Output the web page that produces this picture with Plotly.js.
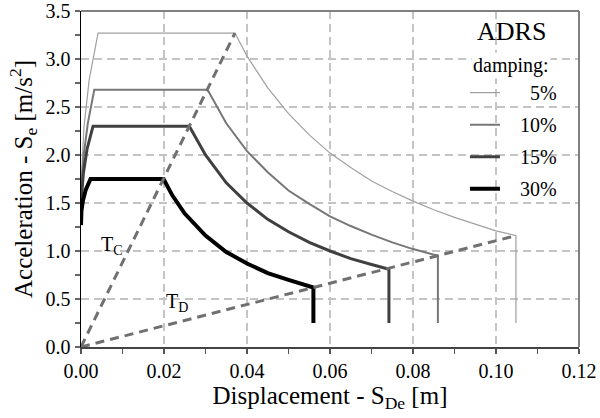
<!DOCTYPE html>
<html>
<head>
<meta charset="utf-8">
<script src="https://cdn.plot.ly/plotly-3.0.1.min.js"></script>
<style>
html,body{margin:0;padding:0;background:#fff;}
#chart{width:600px;height:418px;}
#chart svg text{font-family:"Liberation Serif","DejaVu Serif",serif !important;}
</style>
</head>
<body>
<div id="chart"></div>
<script>
// Spectral displacement (m) and acceleration (m/s2) for each damping level
var sd5  = [0, 0.00014, 0.00072, 0.00196, 0.0041, 0.0371, 0.040, 0.045, 0.050, 0.055, 0.060, 0.065, 0.070, 0.075, 0.080, 0.085, 0.090, 0.095, 0.100, 0.1048, 0.1048];
var sa5  = [1.31, 1.80, 2.29, 2.78, 3.27, 3.27, 3.03, 2.70, 2.43, 2.21, 2.02, 1.87, 1.73, 1.62, 1.52, 1.43, 1.35, 1.28, 1.21, 1.16, 0.25];
var sd10 = [0, 0.00013, 0.00062, 0.00164, 0.0032, 0.0305, 0.035, 0.040, 0.045, 0.050, 0.055, 0.060, 0.065, 0.070, 0.075, 0.080, 0.0860, 0.0860];
var sa10 = [1.31, 1.65, 1.99, 2.33, 2.68, 2.68, 2.33, 2.04, 1.82, 1.63, 1.49, 1.36, 1.26, 1.17, 1.09, 1.02, 0.95, 0.25];
var sd15 = [0, 0.00012, 0.00057, 0.00145, 0.0029, 0.0261, 0.030, 0.035, 0.040, 0.045, 0.050, 0.055, 0.060, 0.065, 0.070, 0.0742, 0.0742];
var sa15 = [1.30, 1.56, 1.81, 2.06, 2.30, 2.30, 2.00, 1.71, 1.50, 1.33, 1.20, 1.09, 1.00, 0.92, 0.86, 0.81, 0.25];
var sd30 = [0, 0.00011, 0.00048, 0.00116, 0.0023, 0.0199, 0.022, 0.025, 0.030, 0.035, 0.040, 0.045, 0.050, 0.0530, 0.0560, 0.0560];
var sa30 = [1.27, 1.42, 1.53, 1.64, 1.75, 1.75, 1.58, 1.39, 1.16, 0.99, 0.87, 0.77, 0.70, 0.66, 0.62, 0.25];
// Corner-period lines
var tcX = [0, 0.0371], tcY = [0, 3.27];
var tdX = [0, 0.1048], tdY = [0, 1.16];
var seriesNames = ['5%', '10%', '15%', '30%'];
var xTickVals = [0, 0.02, 0.04, 0.06, 0.08, 0.10, 0.12];
var xTickText = ['0.00', '0.02', '0.04', '0.06', '0.08', '0.10', '0.12'];
var yTickVals = [0, 0.5, 1, 1.5, 2, 2.5, 3, 3.5];
var yTickText = ['0.0', '0.5', '1.0', '1.5', '2.0', '2.5', '3.0', '3.5'];

var FONT = 'Liberation Serif, DejaVu Serif, serif';
var pad5 = '\u00a0\u00a0\u00a0\u00a0\u00a0', pad3 = '\u00a0\u00a0\u00a0';

function curve(x, y, name, color, width, pad, grp) {
  return {x: x, y: y, type: 'scatter', mode: 'lines', name: pad + name,
          legendgroup: grp, line: {color: color, width: width}, hoverinfo: 'skip'};
}
var traces = [
  curve(sd5, sa5, seriesNames[0], '#a0a0a0', 1.2, pad5, 'a'),
  curve(sd10, sa10, seriesNames[1], '#777777', 2, pad3, 'b'),
  curve(sd15, sa15, seriesNames[2], '#404040', 3, pad3, 'c'),
  curve(sd30, sa30, seriesNames[3], '#000000', 4, pad3, 'd'),
  {x: tcX, y: tcY, type: 'scatter', mode: 'lines', showlegend: false,
   line: {color: '#707070', width: 3, dash: '9px,6px'}, hoverinfo: 'skip'},
  {x: tdX, y: tdY, type: 'scatter', mode: 'lines', showlegend: false,
   line: {color: '#707070', width: 3, dash: '9px,6px'}, hoverinfo: 'skip'}
];

var layout = {
  width: 600, height: 418,
  margin: {l: 81, r: 21, t: 11, b: 71},
  paper_bgcolor: '#fff', plot_bgcolor: '#fff',
  font: {family: FONT, color: '#000', size: 20},
  showlegend: true,
  legend: {x: 0.771, y: 0.815, xanchor: 'left', yanchor: 'top', bgcolor: 'rgba(0,0,0,0)',
           font: {family: FONT, size: 20, color: '#000'}, tracegroupgap: 3},
  xaxis: {
    range: [0, 0.12], tickvals: xTickVals, ticktext: xTickText,
    ticks: 'outside', ticklen: 5, tickcolor: '#555', tickwidth: 1.5,
    minor: {dtick: 0.01, tick0: 0, ticks: 'outside', ticklen: 5, tickcolor: '#555', tickwidth: 1.5, showgrid: false},
    showline: true, linecolor: '#444', linewidth: 2,
    showgrid: true, gridcolor: '#c4c4c4', gridwidth: 1.5, griddash: '8px,5px',
    zeroline: false, tickfont: {family: FONT, size: 20, color: '#000'},
    title: {text: 'Displacement - S<sub>De</sub> [m]', font: {family: FONT, size: 25, color: '#000'}, standoff: 4}
  },
  yaxis: {
    range: [0, 3.5], tickvals: yTickVals, ticktext: yTickText,
    ticks: 'outside', ticklen: 5, tickcolor: '#666', tickwidth: 1.5,
    minor: {dtick: 0.25, tick0: 0, ticks: 'outside', ticklen: 5, tickcolor: '#666', tickwidth: 1.5, showgrid: false},
    showline: true, linecolor: '#000', linewidth: 1.5,
    showgrid: true, gridcolor: '#c4c4c4', gridwidth: 1.5, griddash: '8px,5px',
    zeroline: false, tickfont: {family: FONT, size: 20, color: '#000'},
    title: {text: 'Acceleration - S<sub>e</sub> [m/s<sup>2</sup>]', font: {family: FONT, size: 25, color: '#000'}, standoff: 6}
  },
  shapes: [
    {type: 'line', xref: 'paper', yref: 'paper', x0: 0, x1: 1, y0: 1, y1: 1, line: {color: '#808080', width: 2}},
    {type: 'line', xref: 'paper', yref: 'paper', x0: 1, x1: 1, y0: 0, y1: 1, line: {color: '#808080', width: 2}}
  ],
  annotations: [
    {text: 'ADRS', xref: 'paper', yref: 'paper', x: 0.864, y: 0.939, xanchor: 'center', yanchor: 'middle',
     showarrow: false, font: {family: FONT, size: 26, color: '#000'}},
    {text: 'damping:', xref: 'paper', yref: 'paper', x: 0.864, y: 0.838, xanchor: 'center', yanchor: 'middle',
     showarrow: false, bgcolor: '#fff', font: {family: FONT, size: 20, color: '#000'}},
    {text: 'T<sub>C</sub>', x: 0.0075, y: 1.06, xref: 'x', yref: 'y', showarrow: false,
     font: {family: FONT, size: 20, color: '#000'}},
    {text: 'T<sub>D</sub>', x: 0.0232, y: 0.465, xref: 'x', yref: 'y', showarrow: false,
     font: {family: FONT, size: 20, color: '#000'}}
  ]
};
Plotly.newPlot('chart', traces, layout, {staticPlot: true, displayModeBar: false});
</script>
</body>
</html>
